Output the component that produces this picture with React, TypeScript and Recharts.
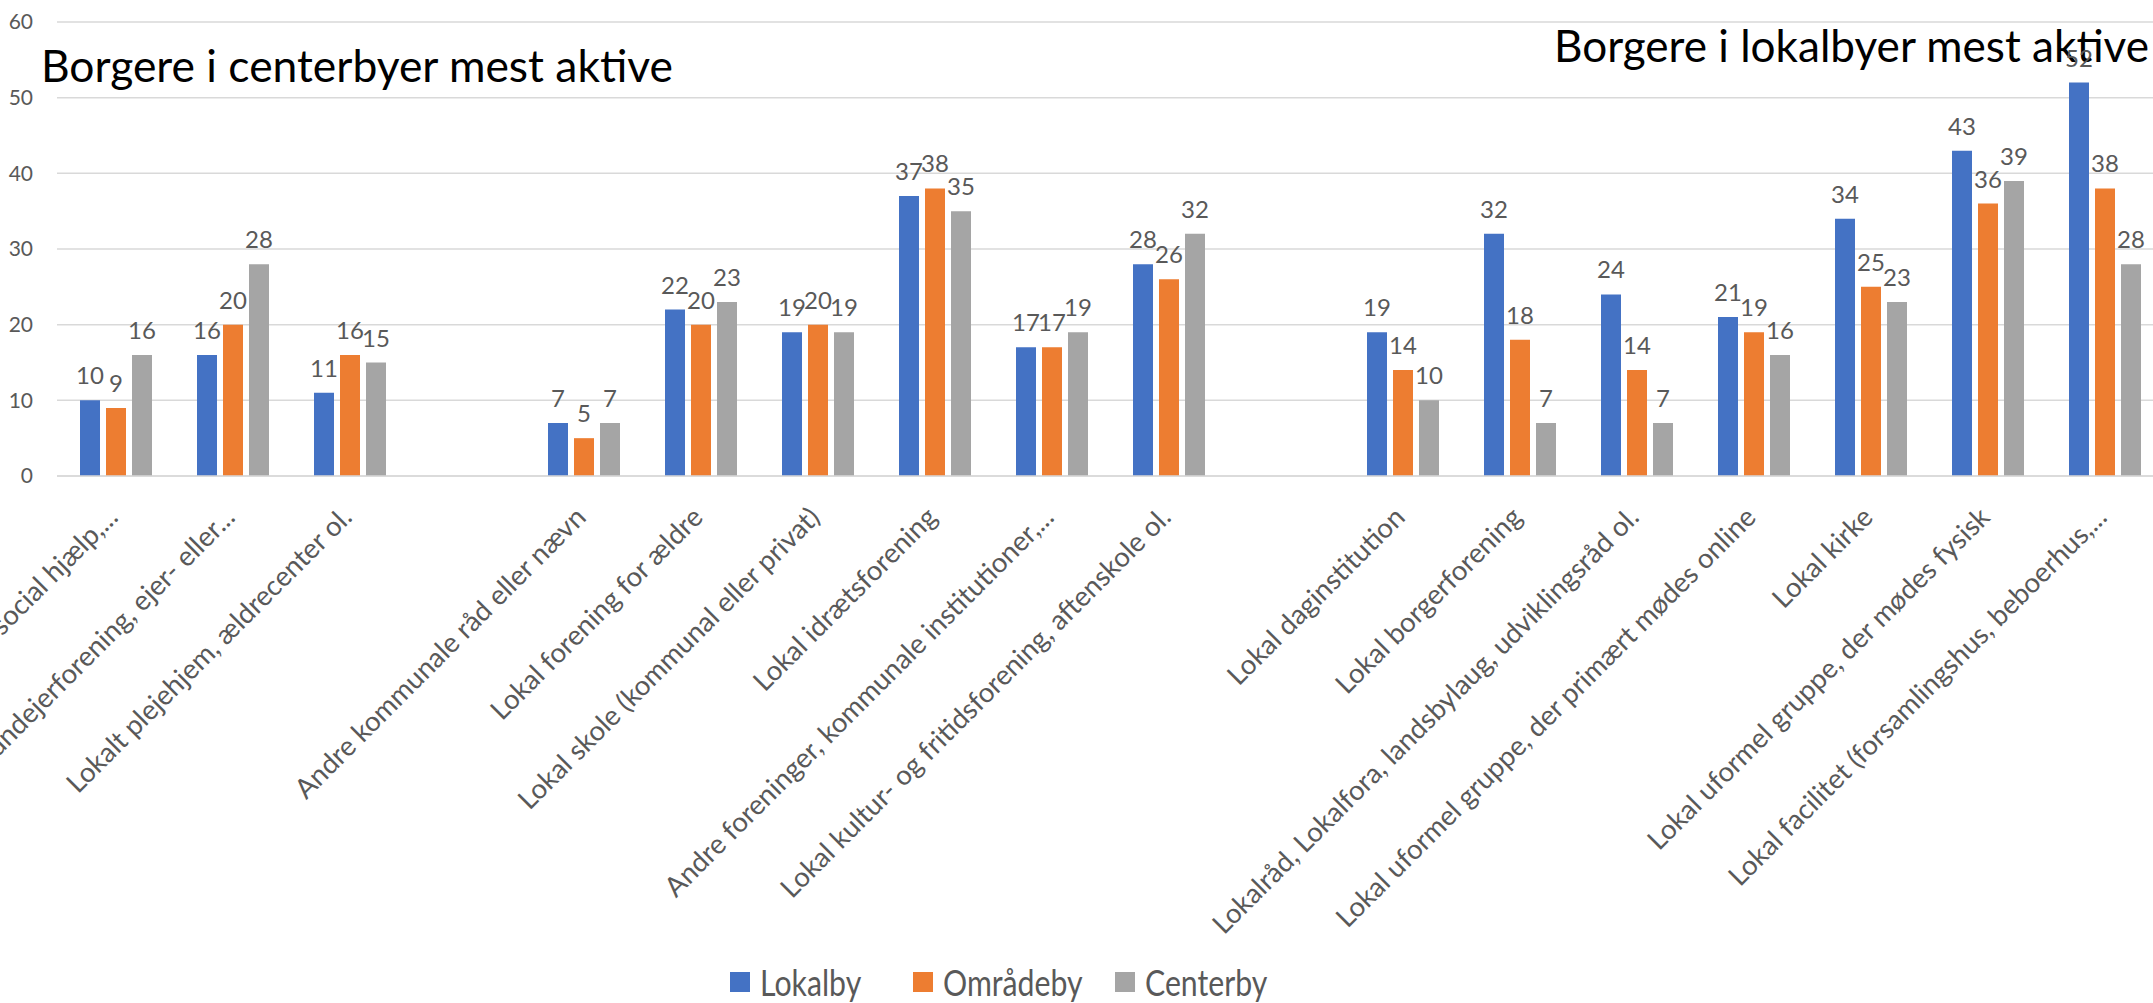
import { Bar, BarChart, CartesianGrid, Customized, LabelList, Legend, XAxis, YAxis } from 'recharts';

const categories = [
  'Lokal forening for social hjælp,...',
  'Lokal grundejerforening, ejer- eller...',
  'Lokalt plejehjem, ældrecenter ol.',
  '',
  'Andre kommunale råd eller nævn',
  'Lokal forening for ældre',
  'Lokal skole (kommunal eller privat)',
  'Lokal idrætsforening',
  'Andre foreninger, kommunale institutioner,...',
  'Lokal kultur- og fritidsforening, aftenskole ol.',
  '',
  'Lokal daginstitution',
  'Lokal borgerforening',
  'Lokalråd, Lokalfora, landsbylaug, udviklingsråd ol.',
  'Lokal uformel gruppe, der primært mødes online',
  'Lokal kirke',
  'Lokal uformel gruppe, der mødes fysisk',
  'Lokal facilitet (forsamlingshus, beboerhus,...',
];

const lokalby = [10, 16, 11, null, 7, 22, 19, 37, 17, 28, null, 19, 32, 24, 21, 34, 43, 52];
const omraadeby = [9, 20, 16, null, 5, 20, 20, 38, 17, 26, null, 14, 18, 14, 19, 25, 36, 38];
const centerby = [16, 28, 15, null, 7, 23, 19, 35, 19, 32, null, 10, 7, 7, 16, 23, 39, 28];

const yTicks = [0, 10, 20, 30, 40, 50, 60];

const titleLeft = 'Borgere i centerbyer mest aktive';
const titleRight = 'Borgere i lokalbyer mest aktive';

const series = [
  { key: 'Lokalby', color: '#4472C4', width: 183 },
  { key: 'Områdeby', color: '#ED7D31', width: 202 },
  { key: 'Centerby', color: '#A5A5A5', width: 200 },
];

const data = categories.map((name, i) => ({
  name,
  Lokalby: lokalby[i],
  Områdeby: omraadeby[i],
  Centerby: centerby[i],
}));

const font = 'Lato, "Noto Sans", sans-serif';

function CategoryTick({ x, y, payload }: any) {
  const tx = x + 4;
  const ty = y + 35;
  return (
    <text
      x={tx}
      y={ty}
      textAnchor="end"
      fill="#595959"
      fontSize={27.5}
      fontFamily={font}
      transform={`rotate(-45, ${tx}, ${ty})`}
    >
      {payload.value}
    </text>
  );
}

function Titles() {
  return (
    <g fontFamily={font} fill="#000">
      <text x={41} y={82} fontSize={44} textLength={632} lengthAdjust="spacingAndGlyphs">
        {titleLeft}
      </text>
      <text x={1554} y={62} fontSize={44} textLength={595} lengthAdjust="spacingAndGlyphs">
        {titleRight}
      </text>
    </g>
  );
}

function LegendContent() {
  return (
    <div style={{ display: 'flex', alignItems: 'center', paddingLeft: 730, paddingTop: 18, height: 36, fontFamily: font }}>
      {series.map((s) => (
        <div key={s.key} style={{ display: 'flex', alignItems: 'center', width: s.width, height: 36 }}>
          <span style={{ width: 20, height: 20, background: s.color, display: 'inline-block', marginRight: 10 }} />
          <span
            style={{
              fontSize: 36,
              lineHeight: '36px',
              color: '#595959',
              display: 'inline-block',
              transform: 'scaleX(0.84)',
              transformOrigin: 'left center',
              whiteSpace: 'nowrap',
            }}
          >
            {s.key}
          </span>
        </div>
      ))}
    </div>
  );
}

export default function App() {
  return (
    <div style={{ position: 'fixed', left: 0, top: 0, width: 2153, height: 1003, overflow: 'hidden', background: '#fff' }}>
      <BarChart
        width={2170}
        height={1003}
        data={data}
        margin={{ top: 22, right: 7, left: 0, bottom: 0 }}
        barSize={20}
        barGap={6}
      >
        <CartesianGrid vertical={false} stroke="#D9D9D9" strokeWidth={1.5} />
        <XAxis
          dataKey="name"
          interval={0}
          tickLine={false}
          axisLine={{ stroke: '#D9D9D9', strokeWidth: 1.5 }}
          height={470}
          tick={<CategoryTick />}
        />
        <YAxis
          width={57}
          domain={[0, 60]}
          ticks={yTicks}
          tickLine={false}
          axisLine={false}
          tickMargin={18}
          tick={{ fill: '#595959', fontSize: 21, fontFamily: font }}
        />
        <Legend height={57} verticalAlign="bottom" content={<LegendContent />} />
        {series.map((s) => (
          <Bar key={s.key} dataKey={s.key} fill={s.color} isAnimationActive={false}>
            <LabelList dataKey={s.key} position="top" offset={16} fill="#595959" fontSize={24} fontFamily={font} />
          </Bar>
        ))}
        <Customized component={<Titles />} />
      </BarChart>
    </div>
  );
}
